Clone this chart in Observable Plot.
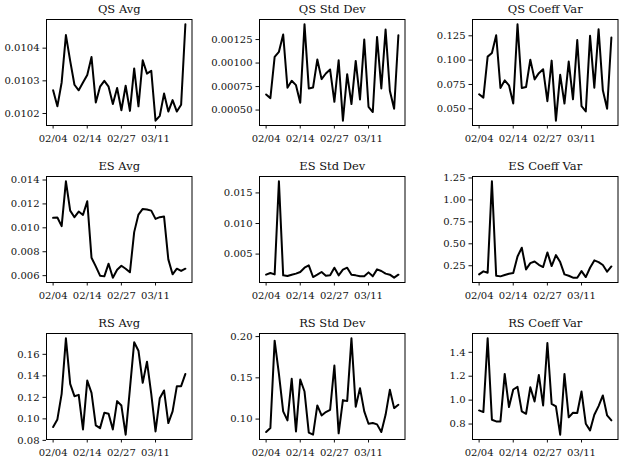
<!DOCTYPE html>
<html>
<head>
<meta charset="utf-8">
<script src="https://cdn.jsdelivr.net/npm/d3@7"></script>
<script src="https://cdn.jsdelivr.net/npm/@observablehq/plot@0.6"></script>
<style>
  html, body { margin: 0; padding: 0; background: white; }
  #chart { position: relative; width: 623px; height: 461px; background: white; }
  #chart > svg { position: absolute; }
</style>
</head>
<body>
<div id="chart"></div>
<script>
// Trading-day labels (categorical x axis)
const dates = ["02/04","02/05","02/06","02/07","02/08","02/11","02/12","02/13","02/14","02/15",
  "02/19","02/20","02/21","02/22","02/25","02/26","02/27","02/28","03/01","03/04",
  "03/05","03/06","03/07","03/08","03/11","03/12","03/13","03/14","03/15","03/18",
  "03/19","03/20"];
const xTickIndex = [0, 8, 16, 24];

const titles = ["QS Avg","QS Std Dev","QS Coeff Var","ES Avg","ES Std Dev","ES Coeff Var","RS Avg","RS Std Dev","RS Coeff Var"];

const qsAvg = [0.010271,0.010222,0.010295,0.010440,0.010361,0.010288,0.010271,0.010295,0.010318,0.010373,
  0.010234,0.010282,0.010300,0.010282,0.010229,0.010278,0.010210,0.010285,0.010208,0.010338,
  0.010222,0.010363,0.010322,0.010331,0.010178,0.010193,0.010261,0.010206,0.010241,0.010206,
  0.010227,0.010473];
const qsStd = [0.000666,0.000627,0.001066,0.001119,0.001303,0.000737,0.000811,0.000765,0.000578,0.001412,
  0.000730,0.000740,0.001037,0.000829,0.000889,0.000931,0.000588,0.001030,0.000387,0.000882,
  0.000564,0.001023,0.000613,0.001250,0.000535,0.000479,0.001278,0.000730,0.001356,0.000705,
  0.000514,0.001296];
const qsCv = [0.0649,0.0615,0.1036,0.1073,0.1256,0.0714,0.0792,0.0741,0.0554,0.1368,
  0.0714,0.0724,0.1005,0.0802,0.0866,0.0907,0.0578,0.0995,0.0378,0.0849,
  0.0554,0.0985,0.0598,0.1206,0.0527,0.0473,0.1250,0.0717,0.1317,0.0690,
  0.0500,0.1233];
const esAvg = [0.010833,0.010861,0.010140,0.013890,0.011440,0.010890,0.011360,0.011080,0.012220,0.007500,
  0.006780,0.006000,0.005940,0.007000,0.005830,0.006500,0.006830,0.006580,0.006280,0.009640,
  0.011110,0.011580,0.011530,0.011440,0.010750,0.010890,0.010940,0.007360,0.006110,0.006580,
  0.006390,0.006580];
const esStd = [0.00163,0.00190,0.00168,0.01690,0.00152,0.00141,0.00163,0.00180,0.00207,0.00277,
  0.00315,0.00125,0.00163,0.00207,0.00147,0.00152,0.00277,0.00152,0.00245,0.00277,
  0.00163,0.00152,0.00136,0.00136,0.00201,0.00136,0.00250,0.00223,0.00180,0.00163,
  0.00114,0.00163];
const esCv = [0.152,0.186,0.170,1.212,0.136,0.129,0.144,0.159,0.167,0.356,
  0.455,0.208,0.280,0.299,0.261,0.235,0.402,0.246,0.371,0.292,
  0.152,0.136,0.114,0.114,0.189,0.121,0.227,0.311,0.292,0.258,
  0.182,0.242];
const rsAvg = [0.0924,0.0995,0.1233,0.1749,0.1325,0.1211,0.1223,0.0902,0.1356,0.1242,
  0.0939,0.0914,0.1056,0.1047,0.0902,0.1165,0.1124,0.0853,0.1279,0.1712,
  0.1634,0.1335,0.1532,0.1233,0.0883,0.1192,0.1264,0.0961,0.1069,0.1304,
  0.1304,0.1418];
const rsStd = [0.0843,0.0891,0.1951,0.1548,0.1093,0.0984,0.1488,0.0851,0.1480,0.1334,
  0.0835,0.0811,0.1165,0.1044,0.1085,0.1113,0.1649,0.0827,0.1230,0.1218,
  0.1979,0.1149,0.1375,0.1093,0.0944,0.0952,0.0936,0.0843,0.1052,0.1355,
  0.1133,0.1173];
const rsCv = [0.914,0.900,1.517,0.836,0.822,0.822,1.219,0.942,1.089,1.111,
  0.906,0.886,1.108,0.989,1.211,0.956,1.478,0.969,0.947,0.711,
  1.219,0.856,0.894,0.892,1.072,0.803,0.747,0.878,0.950,1.039,
  0.872,0.831];

// y tick labels per panel
const yTicksQsAvg = [0.0102, 0.0103, 0.0104];
const yTicksQsStd = [0.0005, 0.00075, 0.001, 0.00125];
const yTicksQsCv  = [0.05, 0.075, 0.1, 0.125];
const yTicksEsAvg = [0.006, 0.008, 0.010, 0.012, 0.014];
const yTicksEsStd = [0.005, 0.010, 0.015];
const yTicksEsCv  = [0.25, 0.5, 0.75, 1.0, 1.25];
const yTicksRsAvg = [0.08, 0.10, 0.12, 0.14, 0.16];
const yTicksRsStd = [0.10, 0.15, 0.20];
const yTicksRsCv  = [0.8, 1.0, 1.2, 1.4];
const yDecimals = [4, 5, 3, 3, 3, 2, 2, 2, 1];

const series = [qsAvg, qsStd, qsCv, esAvg, esStd, esCv, rsAvg, rsStd, rsCv];
const yTicks = [yTicksQsAvg, yTicksQsStd, yTicksQsCv, yTicksEsAvg, yTicksEsStd, yTicksEsCv, yTicksRsAvg, yTicksRsStd, yTicksRsCv];

const chart = document.getElementById("chart");
const font = "'DejaVu Serif', serif";

series.forEach((vals, k) => {
  const row = Math.floor(k / 3), col = k % 3;
  const lo = d3.min(vals), hi = d3.max(vals), pad = (hi - lo) * 0.05;
  const n = vals.length, xpad = (n - 1) * 0.05;
  const data = vals.map((v, i) => ({i, v}));
  const svg = Plot.plot({
    width: 197,
    height: 147,
    marginTop: 19,
    marginBottom: 22,
    marginLeft: 46,
    marginRight: 5.5,
    style: {fontFamily: font, fontSize: "10px", color: "#111", background: "white", overflow: "visible"},
    x: {type: "linear", domain: [-xpad, n - 1 + xpad], ticks: xTickIndex, tickFormat: i => dates[i], tickSize: 3.5, tickPadding: 6, label: null},
    y: {domain: [lo - pad, hi + pad], ticks: yTicks[k], tickFormat: d => d.toFixed(yDecimals[k]), tickSize: 3.5, tickPadding: 3.5, label: null},
    marks: [
      Plot.lineY(data, {x: "i", y: "v", stroke: "black", strokeWidth: 2, strokeLinejoin: "round", clip: false}),
      Plot.frame({stroke: "black", strokeWidth: 1}),
      Plot.text([titles[k]], {frameAnchor: "top", lineAnchor: "bottom", dy: -7, fontSize: 11.5, fill: "#111"})
    ]
  });
  svg.style.left = (col * 213) + "px";
  svg.style.top = (row * 157) + "px";
  chart.appendChild(svg);
});
</script>
</body>
</html>
